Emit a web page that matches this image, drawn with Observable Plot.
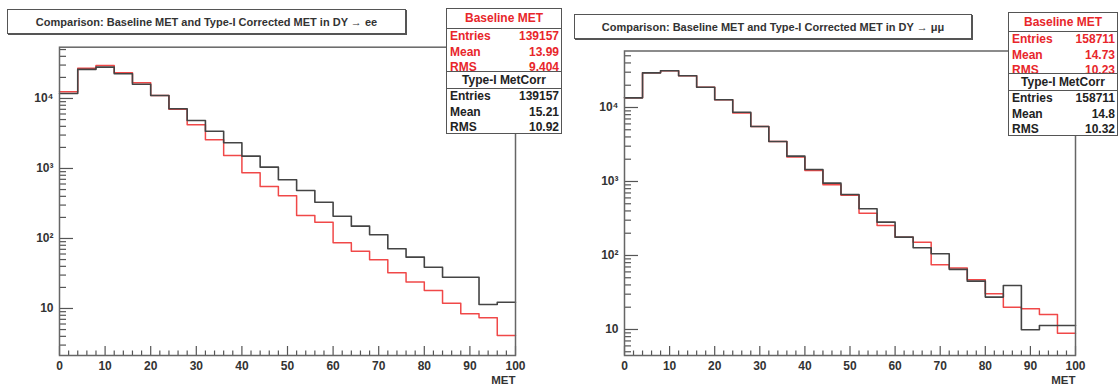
<!DOCTYPE html>
<html>
<head>
<meta charset="utf-8">
<script src="https://cdn.jsdelivr.net/npm/d3@7"></script>
<script src="https://cdn.jsdelivr.net/npm/@observablehq/plot@0.6"></script>
<style>
  html, body { margin: 0; padding: 0; background: #fff; }
  #wrap { position: relative; width: 1118px; height: 389px; overflow: hidden; background: #fff;
          font-family: "Liberation Sans", Arial, sans-serif; }
  .panel { position: absolute; top: 0; }
  .tbox { position: absolute; background: #fff; border: 1px solid #555; box-shadow: 1px 1px 0 #555;
          font-weight: bold; font-size: 11px; color: #333; display: flex; align-items: center; justify-content: center; white-space: nowrap; }
  .sbox { position: absolute; background: #fff; border: 1px solid #555; font-weight: bold; font-size: 12px; box-sizing: border-box; }
  .sbox .hd { text-align: center; border-bottom: 1px solid #555; }
  .sbox .row { display: flex; justify-content: space-between; padding: 0 2px 0 3px; }
  .red { color: #e8262b; }
  .blk { color: #222; }
</style>
</head>
<body>
<div id="wrap"></div>
<script>
// ---------------- data ----------------
const binLow = [0,4,8,12,16,20,24,28,32,36,40,44,48,52,56,60,64,68,72,76,80,84,88,92,96];
const binWidth = 4;

// DY -> ee
const eeBaseline = [12500,27000,29600,23300,16800,11000,7000,4210,2570,1530,868,553,407,213,171,86.9,65.9,49.6,32.4,23.8,18.1,11.9,8.4,7.4,4.1];
const eeType1    = [11800,26000,28000,22500,16000,11000,7130,4850,3410,2330,1500,1045,690,485,330,208,150,113,71.3,54.1,38.9,28,28,11.4,12.3];

// DY -> mumu
const mmBaseline = [13500,29400,31300,26800,18800,12700,8400,5530,3470,2140,1410,900,650,373,254,177,151,74.8,68,47,30.3,20,19,16,8.9];
const mmType1    = [13500,29400,31300,26800,18800,12700,8630,5530,3470,2200,1450,950,667,428,282,177,127,105.5,65,45,27.4,39.3,9.9,11.3,11.3];

const xMajor = [0,10,20,30,40,50,60,70,80,90,100];
const yMajor = [10,100,1000,10000];
const yLabels = ["10","10²","10³","10⁴"];
const axisTitle = ["MET"];

const titles = ["Comparison: Baseline MET and Type-I Corrected MET in DY \u2192 ee",
                "Comparison: Baseline MET and Type-I Corrected MET in DY \u2192 \u03bc\u03bc"];
const statNames = ["Baseline MET", "Type-I MetCorr"];
const statRows = ["Entries", "Mean", "RMS"];
const eeStats = [["139157","13.99","9.404"],["139157","15.21","10.92"]];
const mmStats = [["158711","14.73","10.23"],["158711","14.8","10.32"]];

// ---------------- helpers ----------------
function steps(vals) {
  const pts = binLow.map((x, i) => ({x, y: vals[i]}));
  pts.push({x: binLow[binLow.length - 1] + binWidth, y: vals[vals.length - 1]});
  return pts;
}
function minorTicks(lo, hi) {
  const out = [];
  for (let e = 0; e <= 5; e++) for (let m = 2; m <= 9; m++) {
    const v = m * Math.pow(10, e);
    if (v > lo && v < hi) out.push(v);
  }
  return out;
}

function panel(cfg) {
  const {width, height, mL, mR, mT, mB, yDomain, red, black} = cfg;
  const pw = width - mL - mR, ph = height - mT - mB;
  const xMinor = d3.range(0, 101, 2).filter(v => v % 10 !== 0);
  const lblMap = new Map(yMajor.map((v, i) => [v, yLabels[i]]));
  return Plot.plot({
    width, height,
    marginLeft: mL, marginRight: mR, marginTop: mT, marginBottom: mB,
    style: {fontFamily: "'Liberation Sans', Arial, sans-serif", fontWeight: "bold", fontSize: "12px", color: "#333", background: "transparent"},
    x: {domain: [0, 100], label: null},
    y: {type: "log", domain: yDomain, label: null},
    marks: [
      Plot.lineY(steps(red), {x: "x", y: "y", curve: "step-after", stroke: "#f04848", strokeWidth: 1.5}),
      Plot.lineY(steps(black), {x: "x", y: "y", curve: "step-after", stroke: "#444", strokeWidth: 1.6}),
      // inward ticks
      Plot.ruleX(xMajor, {x: d => d, insetTop: ph - 9, stroke: "#555", strokeWidth: 1.2}),
      Plot.ruleX(xMinor, {x: d => d, insetTop: ph - 4.5, stroke: "#555", strokeWidth: 1.2}),
      Plot.ruleY(yMajor, {y: d => d, insetRight: pw - 14, stroke: "#555", strokeWidth: 1.2}),
      Plot.ruleY(minorTicks(yDomain[0], yDomain[1]), {y: d => d, insetRight: pw - 7, stroke: "#555", strokeWidth: 1.2}),
      Plot.axisX({ticks: xMajor, tickSize: 0, tickPadding: 6, tickFormat: d => String(d), fontSize: 12, fill: "#333", label: null}),
      Plot.axisY({ticks: yMajor, tickSize: 0, tickPadding: 6, tickFormat: d => lblMap.get(d), fontSize: 12, fill: "#333", label: null}),
      Plot.text(axisTitle, {frameAnchor: "bottom-right", text: d => d, dy: 28, textAnchor: "end", fontSize: 11.5, fill: "#333"}),
      Plot.frame({stroke: "#666", strokeWidth: 1.5})
    ]
  });
}

const wrap = document.getElementById("wrap");

function place(el, left, top) {
  const d = document.createElement("div");
  d.className = "panel";
  d.style.left = left + "px";
  d.style.top = top + "px";
  d.appendChild(el);
  wrap.appendChild(d);
}

place(panel({width: 559, height: 389, mL: 59, mR: 44, mT: 46.7, mB: 34,
             yDomain: [2.13, 54000], red: eeBaseline, black: eeType1}), 0, 0);
place(panel({width: 559, height: 389, mL: 65, mR: 43, mT: 50.5, mB: 34,
             yDomain: [4.45, 58000], red: mmBaseline, black: mmType1}), 559, 0);

function titleBox(text, l, t, w, h) {
  const d = document.createElement("div");
  d.className = "tbox";
  Object.assign(d.style, {left: l + "px", top: t + "px", width: w + "px", height: h + "px"});
  d.textContent = text;
  wrap.appendChild(d);
}
titleBox(titles[0], 7, 9, 397, 23);
titleBox(titles[1], 574, 14, 396, 23);

function statBox(name, vals, cls, l, t, w, h, hdH) {
  const d = document.createElement("div");
  d.className = "sbox " + cls;
  Object.assign(d.style, {left: l + "px", top: t + "px", width: w + "px", height: h + "px"});
  const hd = document.createElement("div");
  hd.className = "hd";
  hd.style.height = hdH + "px";
  hd.style.lineHeight = hdH + "px";
  hd.textContent = name;
  d.appendChild(hd);
  statRows.forEach((r, i) => {
    const row = document.createElement("div");
    row.className = "row";
    row.style.height = "15.5px";
    row.style.lineHeight = "15.5px";
    const a = document.createElement("span"); a.textContent = r;
    const b = document.createElement("span"); b.textContent = vals[i];
    row.appendChild(a); row.appendChild(b);
    d.appendChild(row);
  });
  wrap.appendChild(d);
}
statBox(statNames[0], eeStats[0], "red", 446, 8, 116, 66, 19);
statBox(statNames[1], eeStats[1], "blk", 446, 71, 116, 63, 16);
statBox(statNames[0], mmStats[0], "red", 1008, 12, 110, 66, 18);
statBox(statNames[1], mmStats[1], "blk", 1008, 73, 110, 63, 16);
</script>
</body>
</html>
